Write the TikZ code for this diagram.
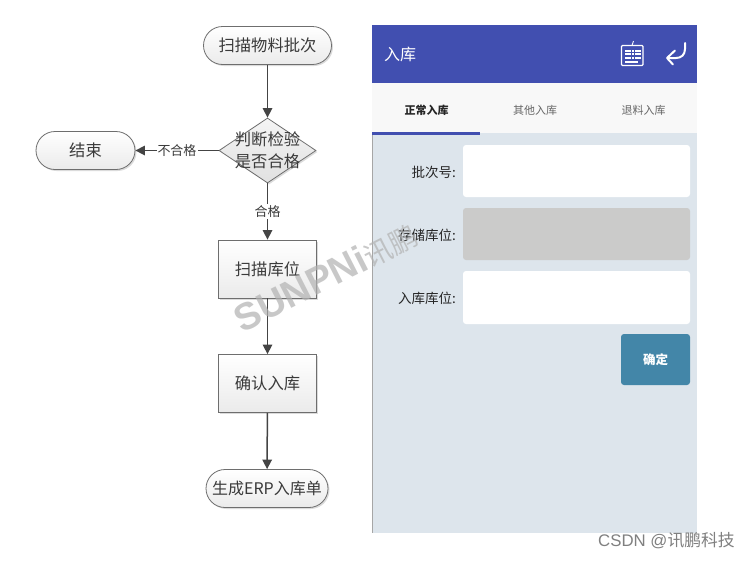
\documentclass[tikz,border=0pt]{standalone}
\usepackage{fontspec}
\setmainfont{Noto Sans CJK SC}
\newfontfamily\latinwm{Liberation Sans}
\newfontfamily\cjkwm{Noto Sans CJK SC}
\usetikzlibrary{arrows.meta,shapes.geometric,shadows}
\definecolor{edgeC}{HTML}{444444}
\definecolor{boxLine}{HTML}{6E6E6E}
\definecolor{hdrBlue}{HTML}{414FB0}
\definecolor{bodyC}{HTML}{DDE5EC}
\definecolor{tabBg}{HTML}{F8F8F8}
\definecolor{fieldGray}{HTML}{CBCBCA}
\definecolor{btnC}{HTML}{4386A8}
\definecolor{flowText}{HTML}{3A3A3A}
\tikzset{
  x=1pt,y=1pt,
  softshadow/.style={drop shadow={shadow xshift=1.5pt,shadow yshift=-1.5pt,fill=black,opacity=0.14}},
  flowbase/.style={draw=boxLine,line width=0.8pt,top color=white,bottom color=black!8,softshadow,
     font=\fontsize{16.3}{19}\selectfont,text=flowText,inner sep=0pt,align=center},
  pill/.style={flowbase,rectangle,rounded corners=19pt,minimum height=38pt},
  procbox/.style={flowbase,rectangle,minimum width=98pt,minimum height=58pt},
  decide/.style={flowbase,diamond,aspect=1.49,minimum width=97pt,minimum height=65pt,top color=black!4,bottom color=black!12},
  flow/.style={draw=edgeC,line width=1.5pt,-{Triangle[length=9.5pt,width=9.5pt]}},
  edgelabel/.style={fill=white,inner sep=1pt,font=\fontsize{13}{15}\selectfont,text=flowText},
  field/.style={rectangle,rounded corners=3pt,minimum width=227pt,inner sep=0pt},
  fieldlabel/.style={anchor=east,inner sep=0pt,font=\fontsize{13.5}{16}\selectfont,text=black!85},
  tablabel/.style={inner sep=0pt,font=\fontsize{11}{13}\selectfont},
}
\begin{document}
\begin{tikzpicture}
\useasboundingbox (0,0) rectangle (750,-560);
\fill[white] (0,0) rectangle (750,-560);

% ---- phone panel
\fill[bodyC] (372,-83) rectangle (696.5,-533);
\fill[black!35] (372,-83) rectangle (373,-533);
\fill[hdrBlue] (372,-25) rectangle (696.5,-83);
\fill[tabBg] (372,-83) rectangle (696.5,-133);
\fill[hdrBlue] (372,-132) rectangle (480,-134.5);
\node[inner sep=0pt,text=white,font=\fontsize{16}{20}\selectfont] (title) at (400,-54.5) {入库};
\node[tablabel,text=black!85] (tab1) at (426.5,-110) {\textbf{正常入库}};
\node[tablabel,text=black!60] (tab2) at (535,-110) {其他入库};
\node[tablabel,text=black!60] (tab3) at (643.5,-110) {退料入库};
\node[field,fill=white,minimum height=52pt] (f1) at (576.5,-171) {};
\node[field,fill=fieldGray,minimum height=52pt] (f2) at (576.5,-234) {};
\node[field,fill=white,minimum height=53pt] (f3) at (576.5,-297.5) {};
\node[fieldlabel] (l1) at (456,-172) {批次号:};
\node[fieldlabel] (l2) at (456,-235.5) {存储库位:};
\node[fieldlabel] (l3) at (456,-298.5) {入库库位:};
\node[rectangle,rounded corners=3pt,fill=btnC,minimum width=69pt,minimum height=51pt,inner sep=0pt,
  text=white,font=\fontsize{12.5}{15}\selectfont] (ok) at (655.5,-359.5) {\raisebox{-1.5pt}{\textbf{确定}}};

% keyboard icon
\draw[white,line width=1.1pt,rounded corners=1pt] (621.5,-45.5) rectangle (643,-65.5);
\draw[white,line width=0.9pt] (632,-45.5) .. controls (632,-43) and (633,-43) .. (633.5,-41);
\foreach \r/\yy in {0/-49.5,1/-53,2/-56.5}{
  \foreach \c in {0,...,4}{
    \fill[white] ({625+\c*3.3},\yy) rectangle ({627.6+\c*3.3},{\yy-2.4});
  }
}
\fill[white] (625,-60.5) rectangle (638,-62.8);
% return icon
\draw[white,line width=2pt,line cap=round,line join=round]
  (685,-43) -- (685,-49) .. controls (685,-55) and (681,-58) .. (676,-58) -- (667.5,-58);
\draw[white,line width=2pt,line cap=round,line join=round]
  (675,-50.5) -- (667,-58) -- (673,-64.5);

% ---- flow chart
\node[pill,minimum width=128pt] (start) at (267.5,-45.5) {扫描物料批次};
\node[decide,label={[font=\fontsize{16.3}{22}\selectfont,text=flowText,align=center,inner sep=0pt]center:判断检验\\是否合格}] (check) at (267.5,-150.5) {};
\node[pill,minimum width=99pt] (finish) at (85.5,-150.5) {结束};
\node[procbox] (scan) at (267.5,-269) {扫描库位};
\node[procbox] (confirm) at (267.5,-383.5) {确认入库};
\node[pill,minimum width=122pt] (erp) at (267,-488.5) {\fontsize{16}{19}\selectfont 生成ERP入库单};

\draw[flow] (start) -- (check);
\draw[flow] (check) -- node[edgelabel]{不合格} (finish);
\draw[flow] (check) -- node[edgelabel]{合格} (scan);
\draw[flow] (scan) -- (confirm);
\draw[flow] (confirm) -- (erp);

% ---- watermark and credit
\node[rotate=27,inner sep=0pt,text=black!30,opacity=0.7,font=\fontsize{38}{40}\selectfont] (wm) at (326,-277) {{\latinwm\bfseries SUNPNi}{\cjkwm\fontsize{28}{32}\selectfont 讯鹏}};
\node[inner sep=0pt,anchor=west,text=black!50,font=\fontsize{16.8}{19}\selectfont] (csdn) at (598,-541) {{\latinwm CSDN @}讯鹏科技};
\end{tikzpicture}
\end{document}
